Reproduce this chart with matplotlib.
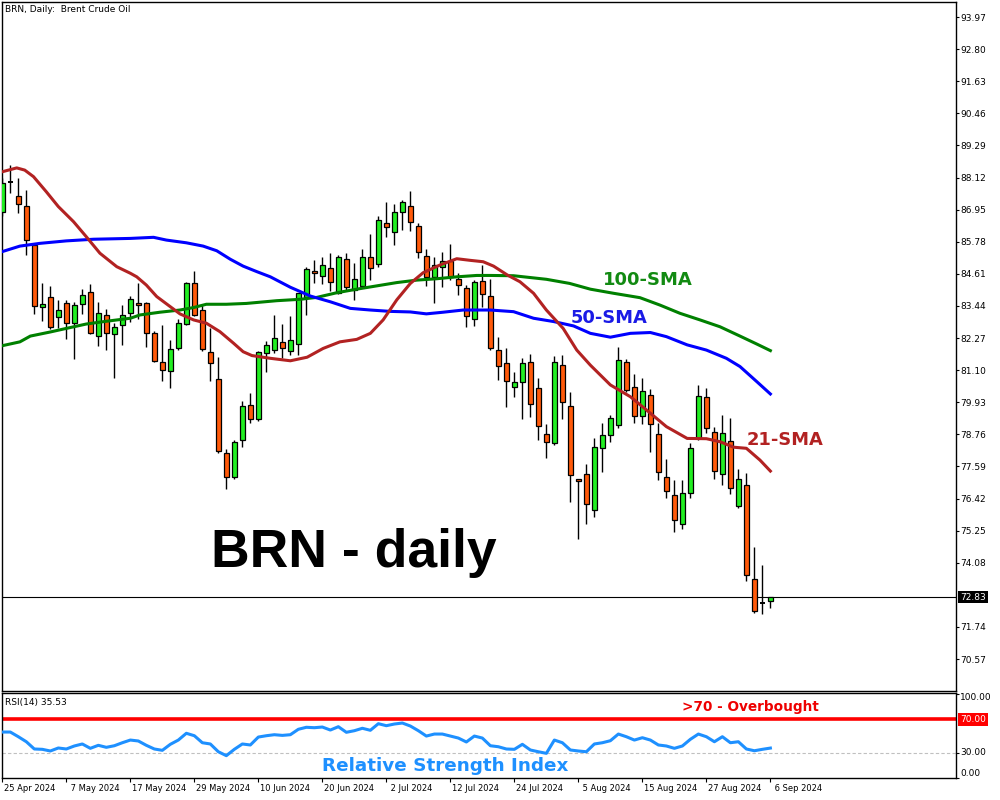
import matplotlib
matplotlib.use("Agg")
import matplotlib.pyplot as plt
import numpy as np

# ---------------- data ----------------
tick_bars = [0, 8, 16, 24, 32, 40, 48, 56, 64, 72, 80, 88, 96]
tick_labels = ["25 Apr 2024", " 7 May 2024", "17 May 2024", "29 May 2024", "10 Jun 2024",
               "20 Jun 2024", " 2 Jul 2024", "12 Jul 2024", "24 Jul 2024", " 5 Aug 2024",
               "15 Aug 2024", "27 Aug 2024", " 6 Sep 2024"]

opens = [86.87, 87.97, 87.45, 87.07, 85.66, 83.39, 83.75, 83.02, 83.53, 82.81,
         83.50, 83.94, 82.33, 83.10, 82.41, 82.73, 83.17, 83.53, 83.53, 82.44,
         81.38, 81.05, 81.92, 82.77, 84.26, 83.28, 81.75, 80.76, 78.07, 77.19,
         78.54, 79.82, 79.31, 81.71, 81.84, 82.11, 81.79, 82.04, 83.75, 84.70,
         84.52, 84.81, 83.90, 85.14, 84.02, 84.18, 85.21, 84.96, 86.46, 86.12,
         86.85, 87.07, 86.34, 85.25, 84.48, 84.85, 85.07, 84.41, 84.08, 82.95,
         84.34, 83.79, 81.82, 81.35, 80.47, 80.65, 81.38, 80.44, 78.76, 78.43,
         81.27, 79.78, 77.12, 77.30, 75.99, 78.25, 78.72, 79.09, 81.38, 80.47,
         79.42, 80.21, 78.76, 77.19, 76.54, 75.48, 76.61, 78.61, 80.11, 78.83,
         77.33, 78.50, 76.14, 76.90, 73.50, 72.62, 72.67]
highs = [88.10, 88.58, 88.09, 87.66, 85.70, 84.26, 84.18, 83.66, 83.66, 83.57,
         84.05, 84.23, 83.57, 83.33, 82.81, 83.46, 83.80, 84.26, 83.58, 82.51,
         82.74, 82.19, 82.95, 84.31, 84.70, 83.52, 82.62, 81.59, 78.21, 78.55,
         79.97, 80.26, 81.80, 82.16, 83.11, 82.78, 83.07, 83.92, 84.85, 85.11,
         85.21, 85.37, 85.28, 85.36, 84.99, 85.50, 86.06, 86.72, 87.23, 87.15,
         87.30, 87.63, 86.45, 85.50, 85.21, 85.40, 85.70, 84.63, 84.19, 84.38,
         84.92, 84.41, 82.30, 81.89, 81.02, 81.53, 81.69, 80.80, 79.13, 81.61,
         81.64, 80.30, 77.14, 77.67, 78.61, 79.16, 79.46, 81.93, 81.49, 80.94,
         80.83, 80.40, 79.16, 77.85, 77.08, 77.08, 78.43, 80.56, 80.44, 79.01,
         79.45, 79.36, 77.48, 77.34, 74.64, 73.99, 72.84]
lows = [86.70, 87.57, 86.84, 85.30, 83.15, 82.89, 82.60, 82.62, 82.23, 81.50,
        83.15, 82.43, 81.99, 81.84, 80.82, 82.03, 82.84, 82.95, 81.95, 81.41,
        80.71, 80.46, 81.85, 82.73, 83.07, 81.81, 80.71, 78.07, 76.76, 77.12,
        78.29, 79.16, 79.26, 81.04, 81.71, 81.53, 81.65, 81.65, 83.11, 84.26,
        84.24, 83.99, 83.87, 84.02, 83.66, 84.14, 84.38, 84.87, 85.96, 85.67,
        86.21, 86.18, 85.18, 84.16, 83.56, 84.14, 84.38, 83.84, 82.68, 82.72,
        83.41, 81.83, 80.74, 79.77, 80.13, 79.31, 79.40, 78.57, 77.89, 78.36,
        79.31, 76.28, 74.93, 75.48, 75.76, 77.37, 78.47, 78.99, 80.31, 79.16,
        79.13, 78.10, 77.08, 76.43, 75.19, 75.30, 76.43, 78.55, 78.79, 77.12,
        76.92, 76.57, 76.06, 73.40, 72.24, 72.22, 72.44]
closes = [87.91, 87.97, 87.16, 85.83, 83.44, 83.50, 82.66, 83.28, 82.81, 83.46,
          83.85, 82.46, 83.17, 82.44, 82.66, 83.10, 83.68, 83.46, 82.44, 81.44,
          81.11, 81.86, 82.81, 84.26, 83.10, 81.88, 81.35, 78.16, 77.19, 78.47,
          79.78, 79.31, 81.77, 82.00, 82.26, 81.89, 82.19, 83.90, 84.77, 84.63,
          84.92, 84.32, 85.21, 84.14, 84.41, 85.21, 84.81, 86.56, 86.31, 86.85,
          87.22, 86.51, 85.39, 84.50, 84.92, 85.07, 84.48, 84.19, 83.06, 84.30,
          83.86, 81.89, 81.24, 80.70, 80.65, 81.35, 79.85, 79.05, 78.47, 81.38,
          79.92, 77.26, 77.05, 76.21, 78.29, 78.72, 79.35, 81.46, 80.39, 79.42,
          80.33, 79.12, 77.37, 76.68, 75.63, 76.61, 78.25, 80.15, 78.98, 77.44,
          78.79, 76.82, 77.12, 73.62, 72.31, 72.62, 72.83]

sma21_x = [0, 1.8, 2.8, 3.9, 5.5, 7, 8.9, 10.5, 12.2, 14.3, 16, 16.8, 18, 19.3, 21, 22.2,
           23.9, 25.5, 27.2, 28.9, 30.1, 31.2, 33.5, 36, 38.1, 40.1, 42.2, 44.3, 46, 47.6,
           49.3, 51, 52.6, 54.7, 56.8, 58.5, 60.1, 61.4, 63.1, 64.7, 66.4, 68, 70.1, 71.8,
           73.5, 76, 78.5, 80.5, 83, 85.6, 88, 89.7, 91.4, 93, 94.7, 96]
sma21_y = [88.33, 88.47, 88.39, 88.15, 87.60, 87.06, 86.51, 85.96, 85.36, 84.87, 84.63,
           84.50, 84.20, 83.78, 83.41, 83.15, 82.93, 82.81, 82.50, 82.08, 81.77, 81.63,
           81.53, 81.44, 81.57, 81.89, 82.13, 82.22, 82.44, 82.93, 83.66, 84.26, 84.65,
           84.93, 85.16, 85.10, 85.05, 84.89, 84.57, 84.32, 83.90, 83.29, 82.62, 81.83,
           81.28, 80.56, 80.13, 79.65, 79.04, 78.61, 78.60, 78.49, 78.29, 78.25, 77.82, 77.42]

sma50_x = [0, 2.2, 4.7, 8, 11.4, 16, 18.9, 20.5, 23, 25.1, 26.8, 28.5, 30.1, 31.8, 33.5,
           36, 38.5, 41, 43.5, 46, 48.5, 51, 53, 55.1, 57.6, 61, 63.9, 66.4, 68.9, 71.4,
           73.5, 76, 78.5, 81, 83, 85.6, 88, 90.5, 92.2, 94.3, 96]
sma50_y = [85.42, 85.62, 85.72, 85.81, 85.87, 85.90, 85.94, 85.84, 85.74, 85.62, 85.45,
           85.14, 84.89, 84.69, 84.50, 84.12, 83.80, 83.59, 83.35, 83.29, 83.24, 83.22,
           83.15, 83.21, 83.29, 83.29, 83.23, 82.99, 82.87, 82.71, 82.44, 82.30, 82.44,
           82.47, 82.32, 82.02, 81.83, 81.53, 81.23, 80.68, 80.23]

sma100_x = [0, 2.2, 3.5, 6, 8, 10.5, 13, 16, 17.2, 19.7, 22.2, 23.9, 25.5, 28, 30.5, 34.3,
            37.2, 39.3, 41.8, 44.3, 46.8, 49.3, 51.8, 54.3, 56.8, 59.3, 61, 63.9, 68, 70.9,
            73.5, 76.4, 79.7, 82.2, 84.7, 87.2, 89.7, 92.2, 94.3, 96]
sma100_y = [81.99, 82.13, 82.34, 82.49, 82.62, 82.78, 82.88, 82.99, 83.11, 83.21, 83.29,
            83.38, 83.50, 83.50, 83.53, 83.63, 83.68, 83.75, 83.92, 84.05, 84.17, 84.29,
            84.38, 84.43, 84.50, 84.55, 84.55, 84.54, 84.41, 84.26, 84.05, 83.90, 83.74,
            83.47, 83.17, 82.93, 82.68, 82.34, 82.05, 81.81]

rsi = [54.7, 54.7, 49.1, 43.1, 34.4, 34.0, 32.0, 35.6, 34.4, 38.0, 40.4, 35.2, 38.8, 36.4,
       38.3, 41.9, 45.1, 44.0, 38.8, 34.4, 32.8, 40.0, 45.1, 53.2, 50.3, 41.9, 40.4, 31.1,
       26.4, 34.0, 40.4, 39.2, 48.7, 50.3, 51.5, 50.7, 51.5, 58.0, 60.4, 59.9, 60.7, 57.1,
       61.1, 54.4, 56.3, 59.2, 56.8, 64.7, 62.3, 64.3, 65.5, 61.9, 56.3, 49.9, 52.3, 52.3,
       49.9, 47.5, 42.8, 49.9, 47.5, 38.3, 37.1, 34.4, 34.0, 40.0, 33.2, 31.1, 29.2, 45.1,
       41.9, 33.2, 32.0, 31.1, 40.4, 41.9, 44.3, 52.3, 49.1, 45.1, 47.9, 45.1, 39.2, 38.0,
       35.2, 38.0, 46.0, 52.3, 49.1, 43.1, 49.1, 41.9, 43.1, 34.4, 32.3, 34.0, 35.5]

price_ticks = [93.97, 92.80, 91.63, 90.46, 89.29, 88.12, 86.95, 85.78, 84.61, 83.44,
               82.27, 81.10, 79.93, 78.76, 77.59, 76.42, 75.25, 74.08, 71.74, 70.57]
last_price = 72.83
rsi_last = 35.53

# ---------------- figure ----------------
W, H = 1000, 800
fig = plt.figure(figsize=(W / 100, H / 100), dpi=100)
fig.patch.set_facecolor("white")

def fx(px):
    return px / W

def fy(py):
    return 1 - py / H

ax = fig.add_axes([fx(2), fy(690.7), fx(956) - fx(2), fy(1.5) - fy(690.7)])
rx = fig.add_axes([fx(2), fy(778.3), fx(956) - fx(2), fy(693.3) - fy(778.3)])

xl = (-0.04, 119.2)
small = dict(fontsize=6.5, family="DejaVu Sans")
dsmall = dict(fontsize=6.05, family="DejaVu Sans")

# ---- candles ----
x = np.arange(len(opens))
o = np.array(opens); c = np.array(closes); h = np.array(highs); l = np.array(lows)
up = c > o
dn = c < o
dj = c == o
ax.axhline(last_price, color="black", lw=0.8, zorder=1)
ax.vlines(x, l, h, color="black", lw=1.0, zorder=2)
ax.bar(x[up], (c - o)[up], bottom=o[up], width=0.62, color="#22ee22",
       edgecolor="black", linewidth=0.9, zorder=3)
ax.bar(x[dn], (o - c)[dn], bottom=c[dn], width=0.62, color="#ff5a0a",
       edgecolor="black", linewidth=0.9, zorder=3)
ax.hlines(c[dj], x[dj] - 0.32, x[dj] + 0.32, color="black", lw=1.4, zorder=3)

ax.plot(sma100_x, sma100_y, color="#008000", lw=2.2, zorder=4)
ax.plot(sma50_x, sma50_y, color="#0000ff", lw=2.2, zorder=4)
ax.plot(sma21_x, sma21_y, color="#b22222", lw=2.2, zorder=4)

ax.set_xlim(*xl)
ax.set_ylim(69.415, 94.535)
ax.set_xticks([])
ax.yaxis.tick_right()
ax.set_yticks(price_ticks)
ax.set_yticklabels([f"{v:.2f}" for v in price_ticks], **small)
ax.tick_params(axis="y", direction="out", length=2.2, width=0.8, pad=1)
for s in ax.spines.values():
    s.set_linewidth(1.0)

ax.annotate(f"{last_price:.2f}", xy=(1.0, last_price), xycoords=ax.get_yaxis_transform(),
            xytext=(3, 0), textcoords="offset points", ha="left", va="center",
            color="white", bbox=dict(boxstyle="square,pad=0.2", fc="black", ec="none"), **small)

# ---- RSI ----
rx.plot(x, rsi, color="#1e90ff", lw=2.2, zorder=3)
rx.axhline(70, color="#ff0000", lw=2.6, zorder=2)
rx.axhline(30, color="#c0c0c0", lw=0.8, dashes=(3, 2), zorder=1)
rx.set_xlim(*xl)
rx.set_ylim(-0.7, 101.1)
rx.yaxis.tick_right()
rx.set_yticks([0, 30, 100])
rx.set_yticklabels(["", "", ""])
rx.tick_params(axis="y", direction="out", length=2.2, width=0.8, pad=1)
rx.set_xticks(tick_bars)
rx.set_xticklabels([""] * len(tick_bars))
rx.tick_params(axis="x", direction="out", length=3, width=0.8)
for s in rx.spines.values():
    s.set_linewidth(1.0)

ytr = rx.get_yaxis_transform()
rx.annotate("100.00", xy=(1.0, 100), xycoords=ytr, xytext=(3, -2.5),
            textcoords="offset points", ha="left", va="center", **small)
rx.annotate("30.00", xy=(1.0, 30), xycoords=ytr, xytext=(3, 0),
            textcoords="offset points", ha="left", va="center", **small)
rx.annotate("0.00", xy=(1.0, 0), xycoords=ytr, xytext=(3, 3),
            textcoords="offset points", ha="left", va="center", **small)
rx.annotate("70.00", xy=(1.0, 70), xycoords=ytr, xytext=(3, 0),
            textcoords="offset points", ha="left", va="center", color="white",
            bbox=dict(boxstyle="square,pad=0.2", fc="#ff0000", ec="none"), **small)

for b, lbl in zip(tick_bars, tick_labels):
    rx.annotate(lbl, xy=(b, 0), xycoords=("data", "axes fraction"), xytext=(1.0, -4.3),
                textcoords="offset points", ha="left", va="top", annotation_clip=False, **dsmall)

# ---- texts ----
fig.text(fx(5), fy(9), "BRN, Daily:  Brent Crude Oil", ha="left", va="center", **small)
fig.text(fx(5), fy(703), "RSI(14) " + f"{rsi_last:.2f}", ha="left", va="center", **small)

fig.text(fx(353.5), fy(553), "BRN - daily", ha="center", va="center", fontsize=38.5,
         fontweight="bold", family="Liberation Sans", color="black")
bold = dict(fontweight="bold", family="DejaVu Sans", ha="center", va="center")
fig.text(fx(648), fy(280), "100-SMA", fontsize=13, color="#128a12", **bold)
fig.text(fx(609.5), fy(318), "50-SMA", fontsize=12.9, color="#1a1ae6", **bold)
fig.text(fx(785.5), fy(440), "21-SMA", fontsize=12.9, color="#b22222", **bold)
fig.text(fx(750), fy(707.5), ">70 - Overbought", fontsize=9.8, color="#ee0000", **bold)
fig.text(fx(445.5), fy(766), "Relative Strength Index", fontsize=13.2, color="#1e90ff", **bold)

fig.savefig("out.png", dpi=100, facecolor="white")
